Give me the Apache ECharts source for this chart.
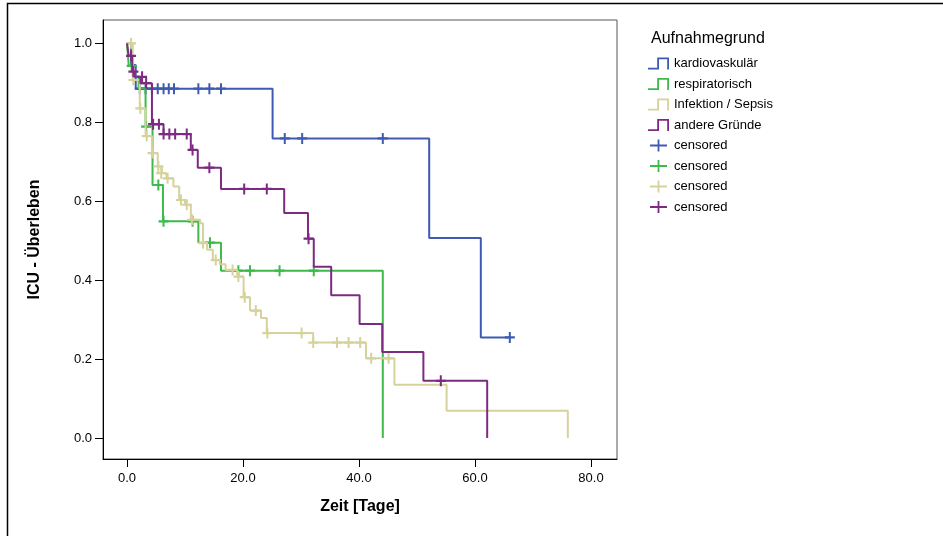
<!DOCTYPE html>
<html>
<head>
<meta charset="utf-8">
<title>ICU - Überleben</title>
<script src="https://cdn.jsdelivr.net/npm/echarts@6/dist/echarts.min.js"></script>
<style>
    html, body { margin: 0; padding: 0; background: #fff; }
    #chart { width: 943px; height: 536px; }
</style>
</head>
<body>
<div id="chart"></div>
<script>
// Kaplan-Meier Daten: [Zeit, Überleben]
const groupNames = ['kardiovaskulär', 'respiratorisch', 'Infektion / Sepsis', 'andere Gründe']
const groupColors = ['#3f5bb1', '#3dba4b', '#d6d29c', '#7d2b81']

const kardioSteps = [[0, 1], [0.7, 0.945], [1.5, 0.885], [25.1, 0.759], [52.1, 0.507], [61.0, 0.255], [66.0, 0.255]]
const kardioCensored = [[2.2, 0.885], [3.2, 0.885], [4.3, 0.885], [5.3, 0.885], [6.3, 0.885], [7.2, 0.885], [8.1, 0.885],
    [12.3, 0.885], [14.2, 0.885], [16.2, 0.885], [27.2, 0.759], [30.2, 0.759], [44.1, 0.759], [66.0, 0.255]]

const respSteps = [[0, 1], [0.3, 0.943], [1.0, 0.915], [2.0, 0.886], [3.2, 0.789], [4.4, 0.641], [6.2, 0.549],
    [12.3, 0.495], [16.2, 0.424], [44.1, 0]]
const respCensored = [[0.8, 0.943], [3.3, 0.789], [5.4, 0.641], [6.3, 0.549], [11.3, 0.549], [14.3, 0.495],
    [19.2, 0.424], [21.2, 0.424], [26.3, 0.424], [32.2, 0.424]]

const sepsisSteps = [[0, 1], [1.0, 0.907], [2.2, 0.835], [3.2, 0.765], [4.3, 0.722], [5.3, 0.688], [6.0, 0.671],
    [6.8, 0.658], [8.0, 0.637], [9.0, 0.603], [10.0, 0.591], [11.0, 0.553], [12.6, 0.544], [13.1, 0.494],
    [13.8, 0.477], [14.8, 0.451], [16.0, 0.440], [17.0, 0.426], [19.0, 0.409], [20.1, 0.357], [21.2, 0.323],
    [23.1, 0.304], [24.1, 0.266], [32.1, 0.242], [41.2, 0.202], [46.1, 0.135], [55.1, 0.069], [76.0, 0]]
const sepsisCensored = [[0.7, 1.0], [1.1, 0.907], [2.3, 0.835], [3.4, 0.765], [4.4, 0.722], [5.4, 0.688],
    [5.9, 0.671], [7.0, 0.658], [9.3, 0.603], [10.3, 0.591], [11.2, 0.553], [13.1, 0.494], [15.3, 0.451],
    [18.2, 0.426], [19.2, 0.409], [20.3, 0.357], [22.2, 0.323], [24.2, 0.266], [30.1, 0.266], [32.1, 0.242],
    [36.2, 0.242], [38.2, 0.242], [40.2, 0.242], [42.1, 0.202], [45.1, 0.202]]

const andereSteps = [[0, 1], [0.3, 0.968], [0.9, 0.928], [1.3, 0.915], [2.3, 0.899], [4.3, 0.795], [6.3, 0.770],
    [11.0, 0.730], [12.2, 0.685], [16.2, 0.631], [27.1, 0.570], [31.2, 0.505], [32.2, 0.434], [35.2, 0.362],
    [40.1, 0.289], [44.0, 0.218], [51.1, 0.145], [62.1, 0]]
const andereCensored = [[0.7, 0.968], [1.1, 0.928], [2.6, 0.915], [3.3, 0.899], [4.5, 0.795], [5.5, 0.795],
    [6.3, 0.770], [7.3, 0.770], [8.3, 0.770], [10.3, 0.770], [11.3, 0.730], [14.2, 0.685], [20.2, 0.631],
    [24.1, 0.631], [31.3, 0.505], [54.1, 0.145]]

const xTicks = [0, 20, 40, 60, 80]
const yTicks = [0, 0.2, 0.4, 0.6, 0.8, 1.0]

const font = 'Arial, "Liberation Sans", sans-serif'
// Symbole: Stufe (Linie) und Kreuz (zensiert)
const stepIcon = 'path://M0,10.2H11V12H0Z M9.2,0H11V12H9.2Z M9.2,0H21V1.8H9.2Z M19.2,0H21V12H19.2Z'
const plusLegend = 'path://M0,5.1H17V6.9H0Z M7.6,0H9.4V12H7.6Z'
const plusMark = 'path://M0,4H10V6H0Z M4,0H6V10H4Z'

const allSteps = [kardioSteps, respSteps, sepsisSteps, andereSteps]
const allCensored = [kardioCensored, respCensored, sepsisCensored, andereCensored]
// gleiche Namen in der Legende -> mit Leerzeichen unterscheiden
const censoredNames = ['censored', 'censored ', 'censored  ', 'censored   ']

const series = []
allSteps.forEach(function (steps, i) {
    series.push({
        name: groupNames[i],
        type: 'line',
        step: 'end',
        data: steps,
        symbol: 'none',
        lineStyle: { color: groupColors[i], width: 2 },
        itemStyle: { color: groupColors[i] },
        z: 2 + i,
    })
})
allCensored.forEach(function (pts, i) {
    series.push({
        name: censoredNames[i],
        type: 'scatter',
        data: pts,
        symbol: plusMark,
        symbolSize: [10, 11],
        itemStyle: { color: groupColors[i], opacity: 1 },
        z: 2 + i,
    })
})

const legendData = groupNames.map(function (n) {
    return { name: n, icon: stepIcon }
}).concat(censoredNames.map(function (n) {
    return { name: n, icon: plusLegend }
}))

const mychart = echarts.init(document.getElementById('chart'))
const option = {
    animation: false,
    backgroundColor: '#fff',
    textStyle: { fontFamily: font },
    grid: {
        left: 103,
        top: 20,
        right: 326,
        bottom: 77,
        show: true,
        borderColor: '#555',
        borderWidth: 1,
    },
    xAxis: {
        type: 'value',
        min: -4.14,
        max: 84.48,
        name: 'Zeit [Tage]',
        nameLocation: 'middle',
        nameGap: 40,
        nameTextStyle: { fontSize: 16, fontWeight: 'bold', color: '#000', fontFamily: font },
        axisLine: { onZero: false, lineStyle: { color: '#000', width: 1 } },
        axisTick: { customValues: xTicks, length: 8, lineStyle: { color: '#000' } },
        axisLabel: {
            customValues: xTicks,
            margin: 13,
            fontSize: 13,
            color: '#000',
            formatter: function (v) { return v.toFixed(1) },
        },
        splitLine: { show: false },
    },
    yAxis: {
        type: 'value',
        min: -0.053,
        max: 1.059,
        name: 'ICU - Überleben',
        nameLocation: 'middle',
        nameGap: 60,
        nameTextStyle: { fontSize: 16, fontWeight: 'bold', color: '#000', fontFamily: font },
        axisLine: { show: true, onZero: false, lineStyle: { color: '#000', width: 1 } },
        axisTick: { show: true, customValues: yTicks, length: 8, lineStyle: { color: '#000' } },
        axisLabel: {
            customValues: yTicks,
            margin: 11,
            fontSize: 13,
            color: '#000',
            formatter: function (v) { return v.toFixed(1) },
        },
        splitLine: { show: false },
    },
    legend: {
        orient: 'vertical',
        left: 643,
        top: 52,
        itemWidth: 21,
        itemHeight: 12,
        itemGap: 7.5,
        symbolKeepAspect: true,
        selectedMode: false,
        data: legendData,
        textStyle: { fontSize: 13, color: '#000', lineHeight: 13, fontFamily: font },
        formatter: function (name) { return name.trim() },
    },
    graphic: [
        {
            // äußerer Rahmen
            type: 'rect',
            shape: { x: 7.5, y: 3.5, width: 1000, height: 1000 },
            style: { fill: 'none', stroke: '#000', lineWidth: 1.5 },
            silent: true,
        },
        {
            type: 'text',
            left: 651,
            top: 31,
            style: { text: 'Aufnahmegrund', fontSize: 16, fill: '#000', fontFamily: font },
        },
    ],
    series: series,
}
mychart.setOption(option)
</script>
</body>
</html>
